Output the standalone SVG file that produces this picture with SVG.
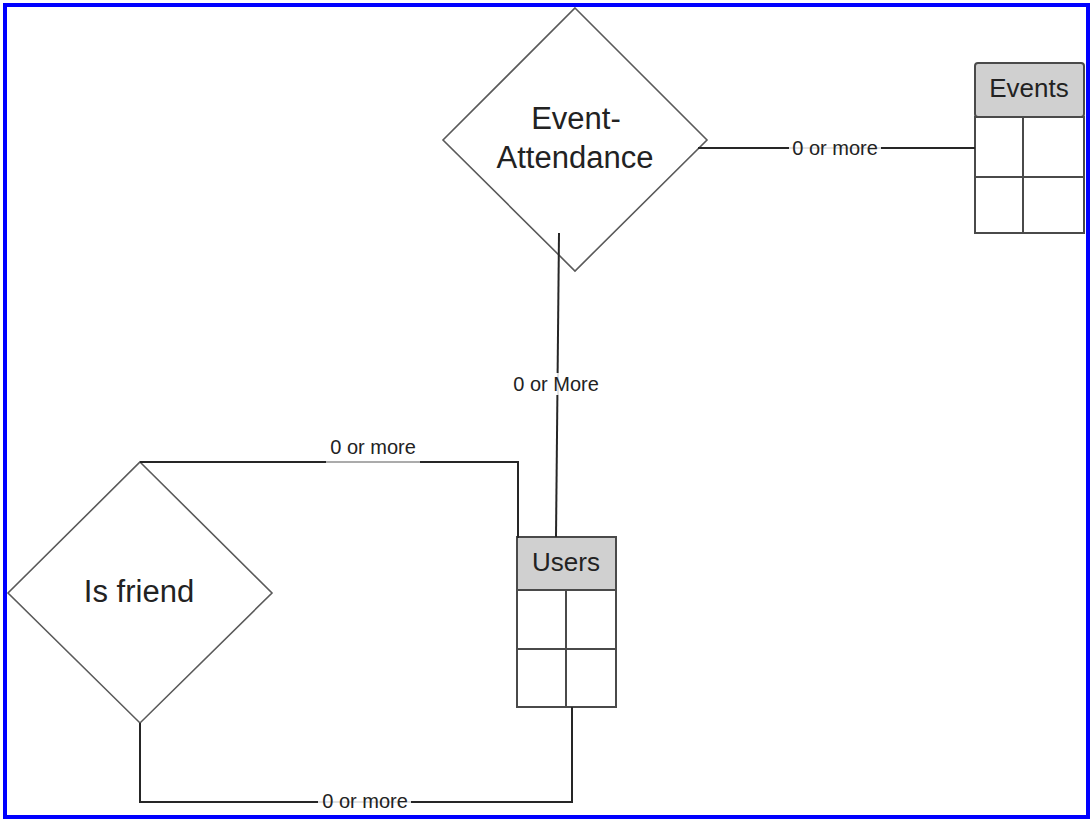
<svg xmlns="http://www.w3.org/2000/svg" width="1090" height="820" viewBox="0 0 1090 820">
  <style>
    .frame { fill: #ffffff; stroke: #0000ff; stroke-width: 4; }
    .diamond { fill: #ffffff; stroke: #5a5a5a; stroke-width: 1.6; }
    .table { fill: #ffffff; stroke: #4a4a4a; stroke-width: 2; }
    .head { fill: #d0d0d0; stroke: #4a4a4a; stroke-width: 2; }
    .grid { stroke: #4a4a4a; stroke-width: 2; fill: none; }
    .conn { fill: none; stroke: #262626; stroke-width: 2; }
    .under { stroke: #d8d8d8; stroke-width: 1.5; }
    .t { font-family: "Liberation Sans", Arial, sans-serif; fill: #222222; text-anchor: middle; }
    .big { font-size: 31px; }
    .mid { font-size: 26px; }
    .lbl { font-size: 20px; }
  </style>

  <rect class="frame" x="5" y="5" width="1083" height="812"/>

  <g id="event-attendance">
    <polygon class="diamond" points="575,8 707,140 575,271 443,140"/>
    <text class="t big" x="576" y="129">Event-</text>
    <text class="t big" x="575" y="168">Attendance</text>
  </g>

  <g id="events">
    <rect class="head" x="975" y="63" width="109" height="54" rx="3"/>
    <rect class="table" x="975" y="117" width="109" height="116"/>
    <line class="grid" x1="975" y1="177" x2="1084" y2="177"/>
    <line class="grid" x1="1023" y1="117" x2="1023" y2="233"/>
    <text class="t mid" x="1029" y="97">Events</text>
  </g>

  <g id="users">
    <rect class="head" x="517" y="537" width="99" height="53"/>
    <rect class="table" x="517" y="590" width="99" height="117"/>
    <line class="grid" x1="517" y1="649" x2="616" y2="649"/>
    <line class="grid" x1="566" y1="590" x2="566" y2="707"/>
    <text class="t mid" x="566" y="571">Users</text>
  </g>

  <g id="is-friend">
    <polygon class="diamond" points="140,462 272,593 140,723 8,593"/>
    <text class="t big" x="139" y="602">Is friend</text>
  </g>

  <!-- relationship lines, drawn over the shapes -->
  <g id="connectors">
    <!-- Event-Attendance to Events -->
    <line class="conn" x1="698" y1="148" x2="975" y2="148"/>
    <rect x="789" y="140" width="92" height="18" fill="#ffffff"/>
    <line class="under" x1="789" y1="148" x2="881" y2="148"/>
    <text class="t lbl" x="835" y="155">0 or more</text>

    <!-- Event-Attendance to Users -->
    <line class="conn" x1="559" y1="233" x2="556" y2="537"/>
    <rect x="509" y="373" width="94" height="22" fill="#ffffff"/>
    <line class="under" x1="558" y1="373" x2="558" y2="395"/>
    <text class="t lbl" x="556" y="391">0 or More</text>

    <!-- Is friend (top) to Users -->
    <polyline class="conn" points="140,462 518,462 518,538"/>
    <line class="under" x1="326" y1="462" x2="420" y2="462" stroke="#e4e4e4"/>
    <text class="t lbl" x="373" y="454">0 or more</text>

    <!-- Is friend (bottom) to Users -->
    <polyline class="conn" points="140,723 140,802 572,802 572,707"/>
    <rect x="318" y="792" width="93" height="19" fill="#ffffff"/>
    <line class="under" x1="318" y1="802" x2="411" y2="802"/>
    <text class="t lbl" x="365" y="808">0 or more</text>
  </g>
</svg>
